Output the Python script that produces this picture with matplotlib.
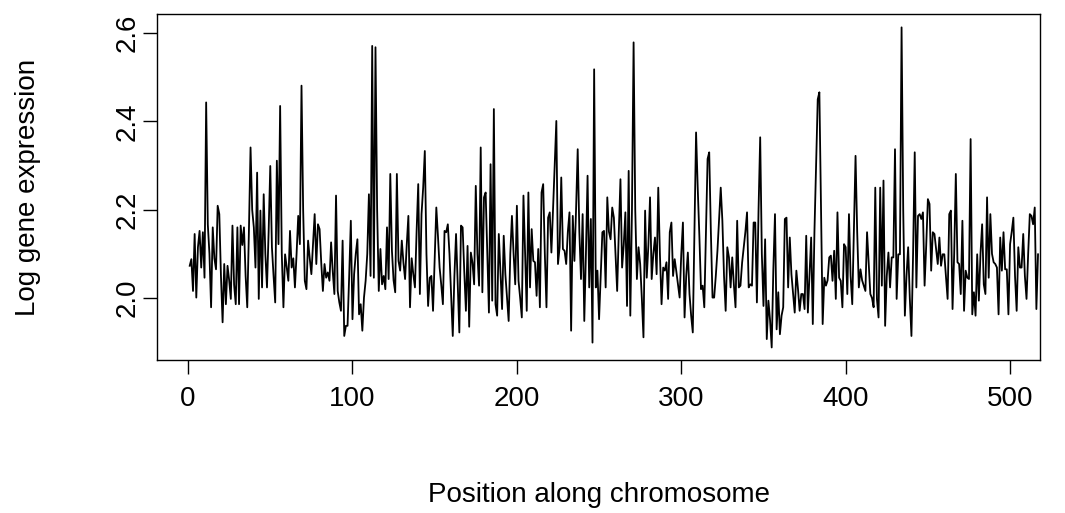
import matplotlib
matplotlib.use("Agg")
import matplotlib.pyplot as plt
import numpy as np

plt.rcParams['font.family'] = ['Liberation Sans', 'DejaVu Sans']

expression = [
    2.073, 2.088, 2.016, 2.145, 2.001, 2.115, 2.152, 2.069, 2.149, 2.046,
    2.443, 2.167, 2.100, 1.979, 2.160, 2.090, 2.065, 2.209, 2.190, 2.050,
    1.945, 2.077, 1.986, 2.073, 2.040, 1.998, 2.164, 2.030, 1.986, 2.160,
    1.986, 2.164, 2.120, 2.160, 2.050, 1.979, 2.150, 2.341, 2.200, 2.160,
    2.069, 2.284, 1.998, 2.198, 2.024, 2.235, 2.100, 2.024, 2.150, 2.299,
    2.115, 2.050, 1.990, 2.311, 2.122, 2.435, 2.100, 1.979, 2.099, 2.070,
    2.039, 2.152, 2.069, 2.090, 2.024, 2.100, 2.186, 2.122, 2.481, 2.200,
    2.039, 2.020, 2.130, 2.090, 2.054, 2.120, 2.190, 2.077, 2.167, 2.156,
    2.080, 2.016, 2.077, 2.046, 2.058, 2.039, 2.126, 2.060, 2.009, 2.232,
    2.016, 1.990, 1.971, 2.130, 1.914, 1.937, 1.937, 2.050, 2.175, 1.952,
    2.054, 2.100, 2.133, 1.963, 1.986, 1.926, 2.001, 2.039, 2.100, 2.235,
    2.050, 2.571, 2.046, 2.568, 2.200, 2.016, 2.111, 2.031, 2.050, 2.020,
    2.160, 2.043, 2.281, 2.107, 2.040, 2.013, 2.281, 2.084, 2.062, 2.130,
    2.080, 2.043, 2.120, 2.186, 1.979, 2.090, 2.054, 2.024, 2.150, 2.258,
    2.009, 2.190, 2.250, 2.333, 2.100, 1.982, 2.046, 2.050, 1.971, 2.090,
    2.205, 2.140, 2.069, 2.030, 1.986, 2.152, 2.149, 2.167, 2.100, 2.010,
    1.914, 2.050, 2.145, 2.030, 1.922, 2.164, 2.160, 2.060, 1.971, 2.118,
    1.935, 2.103, 2.080, 2.031, 2.254, 2.100, 2.028, 2.341, 2.013, 2.228,
    2.239, 2.100, 1.967, 2.303, 1.994, 2.428, 1.986, 1.960, 2.145, 2.060,
    1.975, 2.141, 2.054, 2.000, 1.948, 2.100, 2.186, 2.100, 2.031, 2.209,
    2.039, 2.000, 1.956, 2.232, 2.100, 1.971, 2.239, 2.024, 2.156, 2.084,
    2.081, 2.005, 2.111, 1.979, 2.239, 2.258, 2.100, 1.979, 2.182, 2.194,
    2.103, 2.200, 2.300, 2.401, 2.077, 2.115, 2.273, 2.111, 2.107, 2.077,
    2.150, 2.194, 1.926, 2.186, 2.084, 2.200, 2.337, 2.150, 2.043, 2.190,
    1.948, 2.100, 2.277, 2.024, 2.179, 1.899, 2.518, 2.024, 2.062, 1.952,
    2.050, 2.149, 2.152, 2.024, 2.228, 2.150, 2.133, 2.205, 2.182, 2.100,
    2.016, 2.150, 2.269, 2.069, 2.120, 2.194, 1.982, 2.288, 1.960, 2.198,
    2.579, 2.200, 2.043, 2.115, 2.077, 2.000, 1.911, 2.198, 2.046, 2.120,
    2.228, 2.043, 2.100, 2.137, 2.054, 2.250, 2.100, 1.986, 2.069, 2.062,
    2.081, 1.998, 2.149, 2.171, 2.050, 2.088, 2.060, 2.030, 2.001, 2.100,
    2.171, 1.956, 2.050, 2.103, 2.009, 1.960, 1.922, 2.150, 2.375, 2.250,
    2.141, 2.020, 2.028, 1.979, 2.150, 2.315, 2.330, 2.150, 2.001, 2.001,
    2.050, 2.107, 2.180, 2.250, 2.175, 2.050, 1.971, 2.115, 2.092, 2.024,
    2.092, 2.030, 1.979, 2.175, 2.024, 2.028, 2.080, 2.115, 2.150, 2.194,
    2.024, 2.031, 2.028, 2.171, 2.171, 1.990, 2.200, 2.364, 2.100, 1.982,
    2.133, 1.907, 1.994, 1.950, 1.888, 2.065, 2.190, 1.929, 2.013, 1.918,
    1.960, 1.979, 2.179, 2.182, 2.024, 2.137, 2.054, 2.010, 1.967, 2.062,
    2.020, 1.971, 2.009, 2.009, 1.975, 2.141, 1.967, 2.050, 2.137, 1.941,
    2.150, 2.300, 2.450, 2.466, 2.200, 1.941, 2.046, 2.028, 2.040, 2.092,
    2.096, 2.039, 2.107, 1.998, 2.194, 2.046, 2.039, 1.979, 2.122, 2.115,
    2.009, 2.190, 2.050, 1.986, 2.150, 2.322, 2.150, 2.024, 2.065, 2.040,
    2.028, 2.016, 2.149, 2.080, 2.009, 2.000, 1.979, 2.250, 1.998, 1.956,
    2.250, 2.028, 2.266, 1.937, 2.050, 2.103, 2.024, 2.092, 2.092, 2.337,
    1.998, 2.099, 2.099, 2.613, 2.200, 1.960, 2.050, 2.115, 2.000, 1.914,
    2.100, 2.330, 2.024, 2.186, 2.190, 2.179, 2.194, 2.028, 2.120, 2.224,
    2.213, 2.062, 2.149, 2.145, 2.110, 2.077, 2.137, 2.073, 2.099, 2.099,
    2.050, 1.998, 2.190, 2.198, 1.975, 2.100, 2.281, 2.081, 2.077, 2.009,
    2.175, 1.971, 2.062, 2.046, 2.043, 2.360, 1.963, 2.013, 1.960, 2.099,
    1.994, 2.100, 2.167, 2.031, 2.009, 2.228, 2.046, 2.190, 2.100, 2.081,
    2.077, 2.069, 1.963, 2.137, 2.062, 2.149, 2.065, 2.065, 1.963, 2.122,
    2.150, 2.182, 2.050, 1.971, 2.115, 2.069, 2.069, 2.145, 2.050, 1.998,
    2.100, 2.190, 2.186, 2.167, 2.205, 1.975, 2.099,
]
position = np.arange(1, len(expression) + 1)

x_ticks = [0, 100, 200, 300, 400, 500]
y_ticks = [2.0, 2.2, 2.4, 2.6]
y_tick_labels = ["2.0", "2.2", "2.4", "2.6"]

W, H = 1065, 513
fig = plt.figure(figsize=(W / 100, H / 100), dpi=100)
ax = fig.add_axes([157 / W, 1 - 360 / H, (1040 - 157) / W, (360 - 14) / H])

ax.plot(position, expression, color='black', linewidth=1.3)

ax.set_xlim(-18.9, 518.2)
ax.set_ylim(1.8596, 2.6433)

ax.set_xticks(x_ticks)
ax.set_xticklabels([str(t) for t in x_ticks])
ax.set_yticks(y_ticks)
ax.set_yticklabels(y_tick_labels, rotation=90, va='center')

ax.tick_params(axis='both', direction='out', length=10, width=1.0,
               labelsize=20, colors='black')
ax.tick_params(axis='x', pad=9)
ax.tick_params(axis='y', pad=2)

for s in ax.spines.values():
    s.set_linewidth(1.0)

ax.set_xlabel("Position along chromosome", fontsize=20, va='center')
ax.set_ylabel("Log gene expression", fontsize=20, va='center')
ax.xaxis.set_label_coords(0.5, (360 - 495) / 346)
ax.yaxis.set_label_coords((28 - 157) / 883, 0.5)

fig.savefig("out.png", dpi=100)
